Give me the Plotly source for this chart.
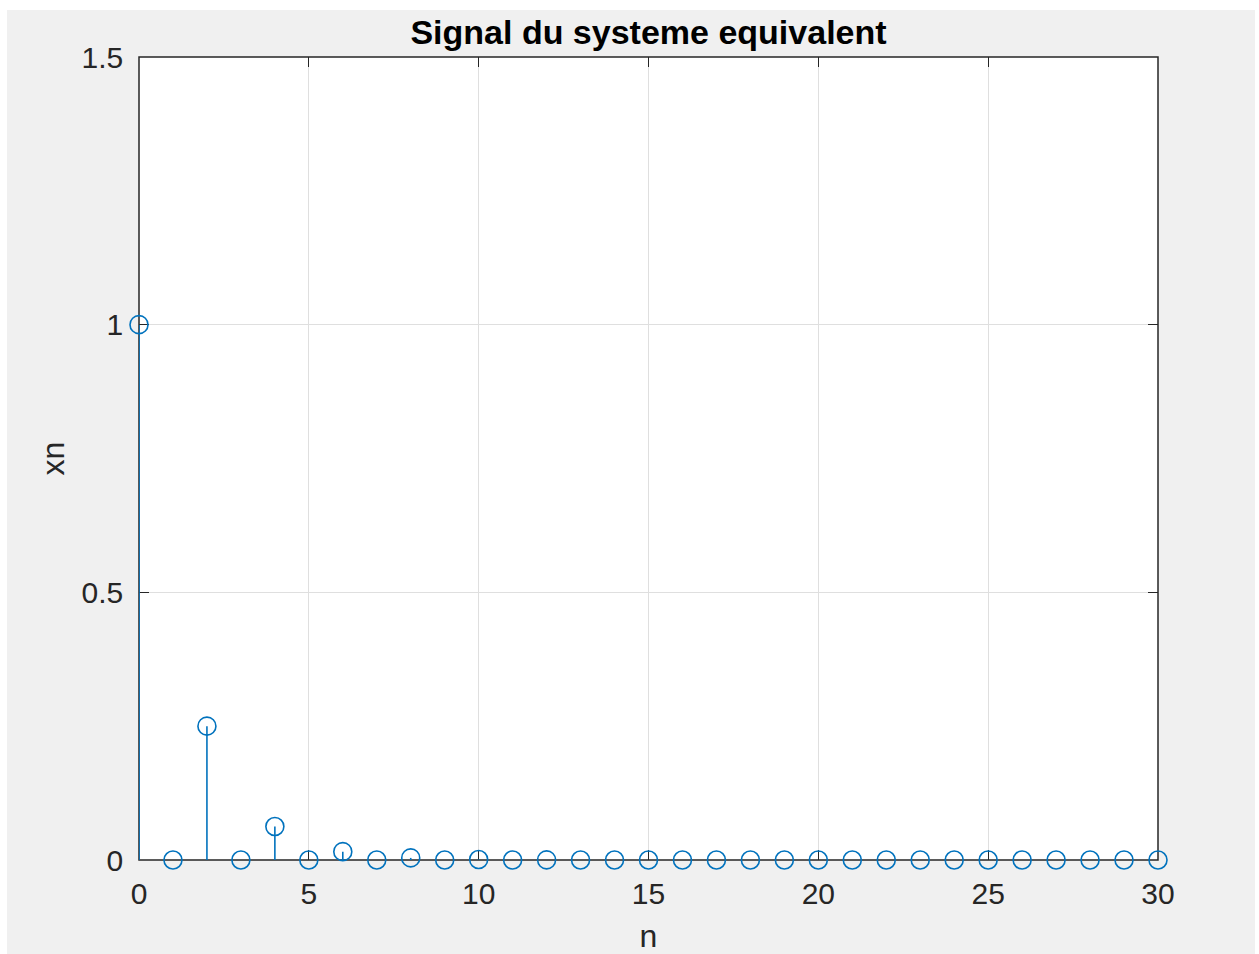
import plotly.graph_objects as go

# Discrete-time signal samples
n = list(range(31))
xn = [1.0, 0.0, 0.25, 0.0, 0.0625, 0.0, 0.015625, 0.0, 0.0039, 0.0,
      0.00098, 0.0, 0.00024, 0.0, 0.00006, 0.0, 0.000015, 0.0, 0.000004, 0.0,
      0.000001, 0.0, 0.0, 0.0, 0.0, 0.0, 0.0, 0.0, 0.0, 0.0, 0.0]

x_ticks = [0, 5, 10, 15, 20, 25, 30]
y_ticks = [0, 0.5, 1, 1.5]
y_tick_text = ["0", "0.5", "1", "1.5"]

title_text = "Signal du systeme equivalent"
x_label = "n"
y_label = "xn"

BLUE = "#0072BD"
AXIS = "#262626"
GRID = "#dfdfdf"
FIG_BG = "#f0f0f0"
FONT = "Liberation Sans, Arial, Helvetica, sans-serif"

W, H = 1259, 954
L, R, T, B = 139, 101, 57, 94
pw, ph = W - L - R, H - T - B

fig = go.Figure()
# stem plot: each sample drawn as an open circle with a stem (error bar down to 0)
fig.add_trace(go.Scatter(
    x=n, y=xn, mode="markers",
    marker=dict(symbol="circle-open", size=18, color=BLUE,
                line=dict(width=1.6, color=BLUE)),
    error_y=dict(type="data", symmetric=False,
                 array=[0] * len(xn), arrayminus=xn,
                 color=BLUE, thickness=1.6, width=0),
    cliponaxis=False, showlegend=False))


def px_x(p):
    return (p - L) / pw


def px_y(p):
    return (H - B - p) / ph


shapes = [
    # grey figure window
    dict(type="rect", xref="paper", yref="paper", layer="below",
         x0=px_x(7), x1=px_x(1255), y0=px_y(954), y1=px_y(10),
         fillcolor=FIG_BG, line=dict(width=0)),
    # white axes area
    dict(type="rect", xref="paper", yref="paper", layer="below",
         x0=0, x1=1, y0=0, y1=1, fillcolor="white", line=dict(width=0)),
    # axes box, above the grid but under the stems
    dict(type="rect", xref="paper", yref="paper", layer="between",
         x0=0, x1=1, y0=0, y1=1, fillcolor="rgba(0,0,0,0)",
         line=dict(color=AXIS, width=1.5)),
]

axis_common = dict(
    showline=True, linecolor="rgba(0,0,0,0)", linewidth=1.5, mirror="ticks",
    ticks="inside", ticklen=10, tickwidth=1.2, tickcolor=AXIS,
    showgrid=True, gridcolor=GRID, gridwidth=1,
    zeroline=False, layer="below traces", automargin=False,
    tickfont=dict(family=FONT, size=30, color=AXIS),
)

fig.update_layout(
    width=W, height=H,
    margin=dict(l=L, r=R, t=T, b=B, autoexpand=False),
    paper_bgcolor="white", plot_bgcolor="white",
    shapes=shapes,
    title=dict(text="<b>" + title_text + "</b>", x=0.5, xref="paper",
               y=1 - 44 / H, yanchor="bottom",
               font=dict(family=FONT, size=34, color="black")),
    xaxis=dict(range=[0, 30], tickvals=x_ticks, ticklabelstandoff=6,
               title=dict(text=x_label, font=dict(family=FONT, size=32, color=AXIS),
                          standoff=24),
               **axis_common),
    yaxis=dict(range=[0, 1.5], tickvals=y_ticks, ticktext=y_tick_text,
               ticklabelstandoff=8,
               title=dict(text=y_label, font=dict(family=FONT, size=32, color=AXIS),
                          standoff=7),
               **axis_common),
)

fig.write_html("out.html")
